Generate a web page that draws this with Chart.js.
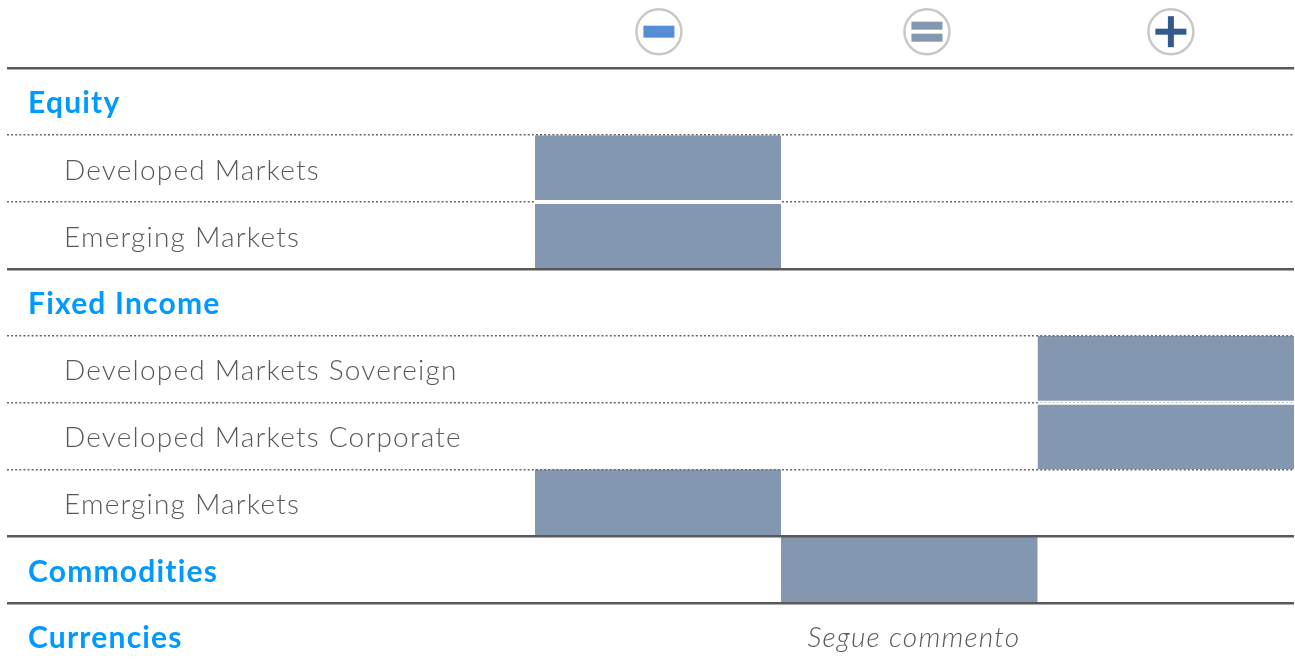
<!DOCTYPE html>
<html lang="en">
<head>
    <meta charset="UTF-8">
    <title>Asset allocation views</title>
    <style>
        html, body { margin: 0; padding: 0; background: #fff; overflow: hidden; height: 664px; }
        canvas { display: block; }
    </style>
</head>
<body>
<canvas id="chart" width="1295" height="672"></canvas>

<script src="https://cdn.jsdelivr.net/npm/chart.js@4/dist/chart.umd.min.js"></script>
<script>
  // first row is the header with the -, = and + icons
  const rowLabels = ['', 'Equity', 'Developed Markets', 'Emerging Markets', 'Fixed Income', 'Developed Markets Sovereign',
    'Developed Markets Corporate', 'Emerging Markets', 'Commodities', 'Currencies'];
  const groupRows = [false, true, false, false, true, false, false, false, true, true];
  // -1 underweight, 0 neutral, 1 overweight, null no view
  const stances = [null, null, -1, -1, null, 1, 1, -1, 0, null];
  const stanceFrom = { '-1': -1.459, '0': -0.5, '1': 0.5 };
  const stanceTo = { '-1': -0.5, '0': 0.5, '1': 1.5 };
  const iconStances = [-0.976, 0.069, 1.02];
  const noteText = 'Segue commento';
  const noteRow = 9;

  const barColor = '#8497b0';
  const ruleColor = '#595959';
  const dotColor = '#666666';
  const textColor = '#595959';
  const groupColor = '#0099ff';
  const fontName = "Lato, 'Open Sans', sans-serif";
  const dots = [2, 2.1];

  // a dotted line between two bars of the same column is hidden by a white gap
  function sameStance(a, b) {
    return stances[a] !== null && stances[a] !== undefined && stances[a] === stances[b];
  }
  function isGapLine(i) {
    return sameStance(i - 1, i);
  }
  function isSolidLine(i) {
    return i === 1 || groupRows[i];
  }

  function lineColor(ctx, wantGap) {
    const i = ctx.index;
    if (i === undefined || i === 0) return 'transparent';
    if (isGapLine(i) !== wantGap) return 'transparent';
    return isSolidLine(i) ? ruleColor : dotColor;
  }

  function flatAxis(scale) {
    scale.width = 0;
    scale.paddingTop = 0;
    scale.paddingBottom = 0;
    scale.paddingLeft = 0;
    scale.paddingRight = 0;
  }

  const barData = stances.map(s => s === null ? null : [stanceFrom[s], stanceTo[s]]);

  const iconsPlugin = {
    id: 'headerIcons',
    beforeDraw(chart) {
      chart.ctx.letterSpacing = '1.2px';
    },
    afterDraw(chart) {
      const ctx = chart.ctx;
      const x = chart.scales.x;
      const cy = chart.scales.y.getPixelForValue(0) - 3.2;
      ctx.save();
      ctx.letterSpacing = '0px';
      iconStances.forEach((s, i) => {
        const cx = x.getPixelForValue(s);
        ctx.beginPath();
        ctx.arc(cx, cy, 22.5, 0, Math.PI * 2);
        ctx.fillStyle = '#fff';
        ctx.fill();
        ctx.lineWidth = 2.5;
        ctx.strokeStyle = '#c8c8c8';
        ctx.stroke();
        if (i === 0) {
          ctx.fillStyle = '#558ed5';
          ctx.fillRect(cx - 15.5, cy - 6, 31, 12);
        } else if (i === 1) {
          ctx.fillStyle = barColor;
          ctx.fillRect(cx - 15.5, cy - 10, 31, 8);
          ctx.fillRect(cx - 15.5, cy + 2, 31, 8);
        } else {
          ctx.fillStyle = '#335a8e';
          ctx.fillRect(cx - 15.5, cy - 3, 31, 6);
          ctx.fillRect(cx - 3, cy - 15.5, 6, 31);
        }
      });
      // note in the Currencies row
      ctx.letterSpacing = '1.2px';
      ctx.font = "italic 300 28px " + fontName;
      ctx.fillStyle = textColor;
      ctx.textAlign = 'center';
      ctx.textBaseline = 'middle';
      ctx.fillText(noteText, x.getPixelForValue(0.018), chart.scales.y.getPixelForValue(noteRow) + 1);
      ctx.restore();
    }
  };

  new Chart(document.getElementById('chart'), {
    type: 'bar',
    data: {
      labels: rowLabels,
      datasets: [{
        data: barData,
        backgroundColor: barColor,
        barPercentage: 1,
        categoryPercentage: 1,
        inflateAmount: 0,
        borderSkipped: false,
        borderColor: '#fff',
        borderWidth(ctx) {
          const i = ctx.dataIndex;
          return {
            top: sameStance(i - 1, i) ? 2 : 0,
            bottom: sameStance(i, i + 1) ? 2 : 0,
            left: 0,
            right: 0
          };
        }
      }]
    },
    plugins: [iconsPlugin],
    options: {
      indexAxis: 'y',
      responsive: false,
      animation: false,
      layout: { padding: { left: 7, right: 1, top: 1.45, bottom: 1.85 } },
      plugins: { legend: { display: false }, tooltip: { enabled: false } },
      scales: {
        x: {
          type: 'linear',
          min: -3.5175,
          max: 1.5,
          display: false
        },
        // group names and the dotted lines that sit under the bars
        y: {
          type: 'category',
          labels: rowLabels,
          position: 'left',
          afterFit: flatAxis,
          border: { display: false, dash: dots },
          grid: {
            offset: true,
            z: -1,
            drawTicks: false,
            lineWidth: 1.5,
            color: ctx => lineColor(ctx, true)
          },
          ticks: {
            autoSkip: false,
            mirror: true,
            padding: 21,
            labelOffset: 2,
            color: groupColor,
            font: { family: fontName, size: 30, weight: 'bold' },
            callback: (v, i) => groupRows[i] ? rowLabels[i] : ''
          }
        },
        // sub-class names and the lines on top of the bars
        y2: {
          type: 'category',
          labels: rowLabels,
          position: 'left',
          afterFit: flatAxis,
          border: {
            display: false,
            dash: ctx => isSolidLine(ctx.index) ? [] : dots
          },
          grid: {
            offset: true,
            z: 1,
            drawTicks: false,
            lineWidth: ctx => isSolidLine(ctx.index) ? 2.5 : 1.5,
            color: ctx => lineColor(ctx, false)
          },
          ticks: {
            autoSkip: false,
            mirror: true,
            padding: 57,
            labelOffset: 2,
            color: textColor,
            font: { family: fontName, size: 28, weight: 300 },
            callback: (v, i) => groupRows[i] ? '' : rowLabels[i]
          }
        }
      }
    }
  });
</script>
</body>
</html>
